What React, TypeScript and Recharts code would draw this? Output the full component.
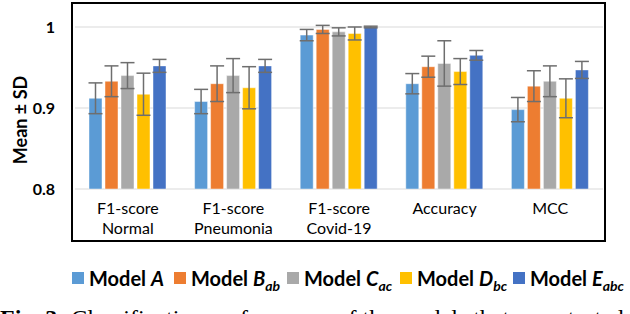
import React from "react";
import { BarChart, Bar, XAxis, YAxis, CartesianGrid, ErrorBar } from "recharts";

// values (mean and SD per metric)
const categories = ["F1-score\nNormal", "F1-score\nPneumonia", "F1-score\nCovid-19", "Accuracy", "MCC"];
const meanA = [0.912, 0.908, 0.99, 0.93, 0.898];
const sdA = [0.019, 0.015, 0.007, 0.0125, 0.015];
const meanB = [0.933, 0.93, 0.997, 0.951, 0.927];
const sdB = [0.019, 0.022, 0.005, 0.013, 0.019];
const meanC = [0.94, 0.94, 0.994, 0.955, 0.933];
const sdC = [0.016, 0.021, 0.005, 0.028, 0.019];
const meanD = [0.917, 0.925, 0.992, 0.945, 0.912];
const sdD = [0.026, 0.026, 0.008, 0.016, 0.024];
const meanE = [0.952, 0.952, 1.0, 0.965, 0.947];
const sdE = [0.008, 0.008, 0.001, 0.006, 0.0105];
const yTicks = [0.8, 0.9, 1];

const series = [
  { key: "A", letter: "A", sub: "", color: "#5B9BD5", mean: meanA, sd: sdA },
  { key: "B", letter: "B", sub: "ab", color: "#ED7D31", mean: meanB, sd: sdB },
  { key: "C", letter: "C", sub: "ac", color: "#A9A9A9", mean: meanC, sd: sdC },
  { key: "D", letter: "D", sub: "bc", color: "#FFC000", mean: meanD, sd: sdD },
  { key: "E", letter: "E", sub: "abc", color: "#4472C4", mean: meanE, sd: sdE },
];

const data = categories.map((name, i) => {
  const row: any = { name };
  series.forEach((s) => {
    row[s.key] = s.mean[i];
    row["sd" + s.key] = s.sd[i];
  });
  return row;
});

const font = "Lato, 'Open Sans', sans-serif";

const CatTick = (props: any) => {
  const { x, y, payload } = props;
  const lines = String(payload.value).split("\n");
  return (
    <text x={x} y={y} textAnchor="middle" fontFamily={font} fontSize={16} fill="#000">
      {lines.map((l, i) => (
        <tspan key={i} x={x} dy={i === 0 ? 25 : 20}>
          {l}
        </tspan>
      ))}
    </text>
  );
};

const YTitle = () => (
  <text
    x={20}
    y={120}
    transform="rotate(-90, 20, 120)"
    textAnchor="middle"
    dominantBaseline="central"
    fontFamily={font}
    fontSize={18}
    fontWeight="bold"
    fill="#000"
  >
    Mean ± SD
  </text>
);

const legendX = [72, 174, 287, 400, 513];

const App = () => {
  return (
    <div style={{ position: "absolute", left: 0, top: 0, width: 630, height: 314, overflow: "hidden", background: "#fff" }}>
      <BarChart
        width={630}
        height={246}
        data={data}
        margin={{ top: 27, right: 27, left: 0, bottom: 0 }}
        barCategoryGap={14}
        barGap={3}
      >
        <CartesianGrid horizontal vertical={false} stroke="#d9d9d9" strokeWidth={1.2} />
        <XAxis
          dataKey="name"
          axisLine={false}
          tickLine={false}
          tickSize={0}
          tickMargin={0}
          height={57}
          interval={0}
          tick={<CatTick />}
        />
        <YAxis
          width={75}
          domain={[0.8, 1]}
          ticks={yTicks}
          allowDataOverflow
          axisLine={false}
          tickLine={false}
          tickSize={0}
          tickMargin={20}
          tick={{ fill: "#000", fontFamily: font, fontSize: 16, fontWeight: "bold" }}
          label={<YTitle />}
        />
        {series.map((s) => (
          <Bar
            key={s.key}
            dataKey={s.key}
            fill={s.color}
            stroke="#ffffff"
            strokeOpacity={0.45}
            strokeWidth={1}
            isAnimationActive={false}
          >
            <ErrorBar dataKey={"sd" + s.key} width={7} stroke="#6e6e6e" strokeWidth={1.5} direction="y" />
          </Bar>
        ))}
      </BarChart>
      {/* outer frame around plot + category labels */}
      <div
        style={{
          position: "absolute",
          left: 71,
          top: 2,
          width: 535,
          height: 240,
          border: "2px solid #000",
          boxSizing: "border-box",
          pointerEvents: "none",
        }}
      />
      {series.map((s, i) => (
        <div
          key={s.key}
          style={{
            position: "absolute",
            left: legendX[i],
            top: 267,
            height: 22,
            display: "flex",
            alignItems: "center",
            fontFamily: font,
            fontWeight: "bold",
            fontSize: 20,
            whiteSpace: "nowrap",
            color: "#000",
          }}
        >
          <span style={{ display: "inline-block", width: 12, height: 12, background: s.color, marginRight: 5 }} />
          <span>
            Model <i>{s.letter}</i>
            {s.sub && (
              <i style={{ fontSize: 14, position: "relative", top: 5 }}>{s.sub}</i>
            )}
          </span>
        </div>
      ))}
      <div
        style={{
          position: "absolute",
          left: 0,
          top: 306,
          fontFamily: "'Liberation Serif', 'Times New Roman', serif",
          fontSize: 24,
          lineHeight: "24px",
          whiteSpace: "nowrap",
          color: "#000",
        }}
      >
        <b>Fig. 3:</b> Classification performance of the models that were tested
      </div>
    </div>
  );
};

export default App;
